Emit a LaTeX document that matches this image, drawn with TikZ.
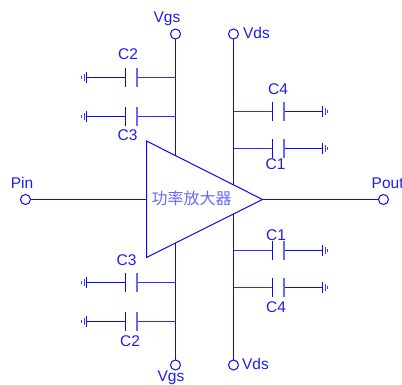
\documentclass[tikz,border=0pt]{standalone}
\usepackage{fontspec}
\setmainfont{Liberation Sans}
\newfontfamily\cjkf{Noto Sans CJK SC}
\definecolor{wire}{RGB}{10,10,240}
\definecolor{softw}{RGB}{105,105,250}
\definecolor{lab}{RGB}{30,30,240}
\tikzset{
  wireline/.style={draw=wire,line width=1pt},
  softplate/.style={draw=softw,line width=1.7pt},
  softline/.style={draw=wire!85!white,line width=1.1pt},
  gndbar/.style={draw=wire!80!white,line width=1pt},
  terminal/.style={circle,draw=wire,fill=white,line width=1pt,minimum size=10pt,inner sep=0pt},
  lbl/.style={text=lab,font=\fontsize{15.5}{17}\selectfont,inner sep=0pt,anchor=center},
}
% #1 rail x, #2 y, #3 ground-side plate x, #4 rail-side plate x, #5 ground bar x, #6 step direction
\newcommand{\capbranch}[6]{%
  \coordinate (rail) at (#1,#2);
  \coordinate (pa) at (#3,#2);
  \coordinate (pb) at (#4,#2);
  \coordinate (gnd) at (#5,#2);
  \draw[softline] (rail) -- (pb);
  \draw[wireline] (pa) -- (gnd);
  \ifnum#6<0
    \draw[softplate] ([yshift=-9.5pt]pb) -- ([yshift=9.5pt]pb);
    \draw[wireline] ([yshift=-9.5pt]pa) -- ([yshift=9.5pt]pa);
  \else
    \draw[softplate] ([yshift=-9.5pt]pa) -- ([yshift=9.5pt]pa);
    \draw[wireline] ([yshift=-9.5pt]pb) -- ([yshift=9.5pt]pb);
  \fi
  \draw[wireline] ([yshift=-5.5pt]gnd) -- ([yshift=5.5pt]gnd);
  \draw[gndbar] ([xshift=#6*2.5pt,yshift=-3.2pt]gnd) -- ([xshift=#6*2.5pt,yshift=3.2pt]gnd);
  \draw[gndbar] ([xshift=#6*4.6pt,yshift=-1.4pt]gnd) -- ([xshift=#6*4.6pt,yshift=1.4pt]gnd);
}
\begin{document}
\begin{tikzpicture}[x=1pt,y=-1pt]
\useasboundingbox (0,0) rectangle (402,385);
\fill[white] (0,0) rectangle (402,385);
% amplifier
\coordinate (t1) at (146.5,141);
\coordinate (t2) at (146.5,257.5);
\coordinate (t3) at (262.5,199.5);
\coordinate (inp) at (146.5,199.5);
\coordinate (gt) at (175.5,155.5);
\coordinate (gb) at (175.5,243);
\coordinate (dt) at (233.5,185);
\coordinate (db) at (233.5,214);
\node[terminal] (vgsT) at (175.5,34) {};
\node[terminal] (vgsB) at (175.5,365) {};
\node[terminal] (vdsT) at (233.5,34) {};
\node[terminal] (vdsB) at (233.5,365) {};
\node[terminal] (pin) at (25.5,199.5) {};
\node[terminal] (pout) at (383.5,199.5) {};
\draw[wireline] (vgsT) -- (gt);
\draw[wireline] (vgsB) -- (gb);
\draw[wireline] (vdsT) -- (dt);
\draw[wireline] (vdsB) -- (db);
\draw[wireline] (pin) -- (inp);
\draw[wireline] (t3) -- (pout);
% left capacitors
\capbranch{175.5}{77.5}{125.5}{137}{86.5}{-1}
\capbranch{175.5}{116.5}{125.5}{137}{86.5}{-1}
\capbranch{175.5}{282.5}{125.5}{137}{86.5}{-1}
\capbranch{175.5}{321.5}{125.5}{137}{86.5}{-1}
% right capacitors
\capbranch{233.5}{111.5}{284}{272.5}{322.5}{1}
\capbranch{233.5}{148.5}{284}{272.5}{322.5}{1}
\capbranch{233.5}{250.5}{284}{272.5}{322.5}{1}
\capbranch{233.5}{287.5}{284}{272.5}{322.5}{1}
\draw[wireline,fill=none,line join=miter] (t1) -- (t3) -- (t2) -- cycle;
% labels
\node[lbl] (lVgsT) at (167,19) {Vgs};
\node[lbl] (lVgsB) at (171,378) {Vgs};
\node[lbl] (lVdsT) at (256.5,33) {Vds};
\node[lbl] (lVdsB) at (255.5,364) {Vds};
\node[lbl] (lPin) at (22,182.5) {Pin};
\node[lbl,anchor=west] (lPout) at (371.5,183) {Pout};
\node[lbl] (c2a) at (128,54) {C2};
\node[lbl] (c3a) at (127.5,135) {C3};
\node[lbl] (c3b) at (126.5,260) {C3};
\node[lbl] (c2b) at (130,341) {C2};
\node[lbl] (c4a) at (278,89.5) {C4};
\node[lbl] (c1a) at (275.5,164) {C1};
\node[lbl] (c1b) at (276,235.5) {C1};
\node[lbl] (c4b) at (276,307.5) {C4};
\node[text=softw,font=\cjkf\fontsize{16}{18}\selectfont,inner sep=0pt] (amp) at (191.5,198) {功率放大器};
\end{tikzpicture}
\end{document}
